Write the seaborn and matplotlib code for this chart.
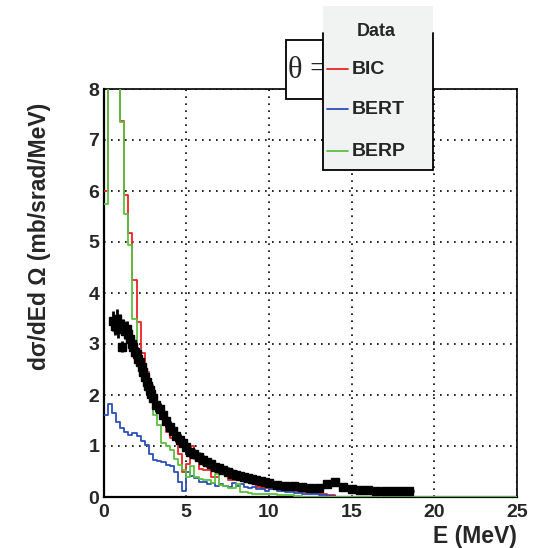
import numpy as np
import pandas as pd
import matplotlib
matplotlib.use("Agg")
import matplotlib.pyplot as plt
from matplotlib.patches import Rectangle
from matplotlib.lines import Line2D
import seaborn as sns

# ---------------- data ----------------
# bin edges: 0.25 MeV up to 10, 0.5 MeV up to 15, one wide bin to 25
edges = list(np.arange(0, 10.0001, 0.25)) + list(np.arange(10.5, 15.0001, 0.5)) + [25.0]

bic = [6.0, 9.5, 9.5, 9.5, 7.38, 5.92, 5.17, 4.25, 3.44, 2.82,
       2.46, 2.2, 1.97, 1.75, 1.57, 1.28, 1.15, 1.2, 0.85, 0.5,
       0.65, 1.0, 0.77, 0.55, 0.53, 0.53, 0.4, 0.4, 0.5, 0.5,
       0.33, 0.33, 0.38, 0.38, 0.3, 0.3, 0.25, 0.2, 0.17, 0.17,
       0.15, 0.15, 0.13, 0.12, 0.1, 0.08, 0.06, 0.04, 0.0, 0.0,
       0.0]
bert = [1.6, 1.82, 1.65, 1.48, 1.35, 1.28, 1.22, 1.25, 1.2, 1.1,
        1.02, 0.85, 0.72, 0.7, 0.68, 0.62, 0.6, 0.5, 0.3, 0.12,
        0.5, 0.42, 0.38, 0.3, 0.3, 0.25, 0.28, 0.22, 0.25, 0.22,
        0.2, 0.28, 0.22, 0.25, 0.2, 0.18, 0.2, 0.15, 0.15, 0.12,
        0.15, 0.12, 0.1, 0.08, 0.06, 0.05, 0.03, 0.02, 0.0, 0.0,
        0.0]
berp = [5.75, 9.5, 9.5, 9.5, 7.35, 5.55, 4.95, 3.5, 2.88, 2.6,
        2.3, 2.0, 1.6, 1.42, 1.05, 1.0, 0.92, 0.75, 0.62, 0.52,
        0.4, 0.6, 0.4, 0.35, 0.33, 0.33, 0.28, 0.45, 0.24, 0.22,
        0.17, 0.17, 0.25, 0.1, 0.1, 0.08, 0.06, 0.05, 0.06, 0.05,
        0.05, 0.04, 0.03, 0.02, 0.0, 0.0, 0.0, 0.0, 0.0, 0.0,
        0.0]

data_E = [0.6, 0.7, 0.8, 0.9, 1.0, 1.1, 1.2, 1.3, 1.4, 1.5, 1.6, 1.7, 1.8, 1.9,
          2.0, 2.1, 2.2, 2.3, 2.4, 2.5, 2.6, 2.7, 2.8, 2.9, 3.0,
          3.2, 3.4, 3.6, 3.8, 4.0, 4.2, 4.4, 4.6, 4.8, 5.0,
          5.25, 5.5, 5.75, 6.0, 6.25, 6.5, 6.75, 7.0, 7.25, 7.5, 7.75,
          8.0, 8.25, 8.5, 8.75, 9.0, 9.25, 9.5, 9.75, 10.0,
          10.5, 11.0, 11.5, 12.0, 12.5, 13.0, 13.5, 14.0, 14.5, 15.0,
          15.5, 16.0, 16.5, 17.0, 17.5, 18.0, 18.5]
data_y = [3.45, 3.35, 3.5, 3.3, 3.4, 2.95, 3.35, 3.25, 3.3, 3.2, 3.1, 3.0, 2.95, 2.85,
          2.8, 2.7, 2.65, 2.55, 2.45, 2.35, 2.25, 2.18, 2.1, 2.02, 1.95,
          1.8, 1.72, 1.6, 1.5, 1.38, 1.3, 1.2, 1.12, 1.05, 0.98,
          0.88, 0.85, 0.78, 0.72, 0.68, 0.64, 0.58, 0.56, 0.53, 0.5, 0.46,
          0.44, 0.42, 0.4, 0.37, 0.35, 0.33, 0.32, 0.3, 0.27,
          0.24, 0.22, 0.21, 0.19, 0.18, 0.18, 0.25, 0.3, 0.2, 0.16,
          0.14, 0.13, 0.12, 0.12, 0.12, 0.11, 0.11]
data_err = [0.2, 0.18, 0.18, 0.18, 0.18, 0.1, 0.15, 0.15, 0.15, 0.15, 0.14, 0.14, 0.14, 0.14,
            0.14, 0.14, 0.14, 0.14, 0.13, 0.13, 0.13, 0.13, 0.13, 0.13, 0.13,
            0.13, 0.13, 0.13, 0.13, 0.12, 0.12, 0.12, 0.12, 0.12, 0.12,
            0.1, 0.1, 0.1, 0.1, 0.09, 0.09, 0.09, 0.09, 0.08, 0.08, 0.08,
            0.08, 0.08, 0.08, 0.07, 0.07, 0.07, 0.07, 0.07, 0.07,
            0.07, 0.07, 0.07, 0.07, 0.07, 0.07, 0.07, 0.07, 0.07, 0.06,
            0.06, 0.05, 0.05, 0.05, 0.05, 0.05, 0.05]
data_xerr = [0.1, 0.1, 0.1, 0.1, 0.1, 0.05, 0.1, 0.1, 0.1, 0.1, 0.1, 0.1, 0.1, 0.1,
             0.1, 0.1, 0.1, 0.1, 0.1, 0.1, 0.1, 0.1, 0.1, 0.1, 0.1,
             0.15, 0.15, 0.15, 0.15, 0.15, 0.15, 0.15, 0.15, 0.15, 0.15,
             0.15, 0.15, 0.15, 0.15, 0.15, 0.15, 0.15, 0.15, 0.15, 0.15, 0.15,
             0.15, 0.15, 0.15, 0.15, 0.15, 0.15, 0.15, 0.15, 0.15,
             0.25, 0.25, 0.25, 0.25, 0.25, 0.25, 0.25, 0.25, 0.25, 0.25,
             0.25, 0.25, 0.25, 0.25, 0.25, 0.25, 0.25]

models = ["BIC", "BERT", "BERP"]
colors = {"BIC": "#ee2222", "BERT": "#2a4fb8", "BERP": "#5cc040"}

# ---------------- style ----------------
sns.set_style("white")
plt.rcParams["font.family"] = ["Liberation Sans", "DejaVu Sans"]
plt.rcParams["font.weight"] = "bold"

fig = plt.figure(figsize=(5.58, 5.48), dpi=100)
ax = fig.add_axes([103.5 / 558, 1 - 497 / 548, (517 - 103.5) / 558, (497 - 89) / 548])

centers = [(edges[i] + edges[i + 1]) / 2 for i in range(len(edges) - 1)]
frames = []
for name, vals in zip(models, [bic, bert, berp]):
    frames.append(pd.DataFrame({"E": centers, "w": vals, "model": name}))
df = pd.concat(frames, ignore_index=True)

for name in models:
    sub = df[df["model"] == name]
    sns.histplot(data=sub, x="E", weights="w", bins=edges, element="step",
                 fill=False, color=colors[name], linewidth=1.3, ax=ax, zorder=3)

ax.errorbar(data_E, data_y, yerr=data_err, xerr=data_xerr, fmt="s", color="black",
            markersize=6, elinewidth=2.0, capsize=0, zorder=4)

ax.set_xlim(0, 25)
ax.set_ylim(0, 8)
ax.set_xticks([0, 5, 10, 15, 20, 25])
ax.set_yticks(range(0, 9))
ax.set_xlabel("")
ax.set_ylabel("")
ax.grid(True, color="black", linestyle=(0, (1, 3.2)), linewidth=1.2)
ax.set_axisbelow(True)

ax.tick_params(axis="x", direction="in", length=14, width=1.4, pad=5,
               labelsize=14, top=False)
ax.tick_params(axis="y", direction="in", length=8.5, width=1.4, pad=3,
               labelsize=14, right=False)
for lab in ax.get_xticklabels() + ax.get_yticklabels():
    lab.set_fontweight("bold")

for s in ["left", "bottom"]:
    ax.spines[s].set_linewidth(1.6)
for s in ["top", "right"]:
    ax.spines[s].set_linewidth(1.2)
for s in ax.spines.values():
    s.set_color("black")

# axis titles
fig.text(40 / 558, 1 - 103 / 548, "dσ/dEd Ω (mb/srad/MeV)", rotation=90,
         ha="center", va="top", fontsize=16.5, fontweight="bold")
fig.text(517 / 558, 1 - 536 / 548, "E (MeV)", ha="right", va="center",
         fontsize=16.5, fontweight="bold")

# theta box
W, H = 558, 548
def fx(px):
    return px / W
def fy(py):
    return 1 - py / H

theta_box = Rectangle((fx(286), fy(99)), fx(323) - fx(286), fy(40) - fy(99),
                      transform=fig.transFigure, facecolor="white",
                      edgecolor="black", linewidth=1.3, zorder=5)
fig.add_artist(theta_box)
fig.text(fx(288), fy(71), "θ =", ha="left", va="center", fontsize=22,
         family=["Liberation Serif", "DejaVu Serif"], fontweight="normal", zorder=6)

# legend box
leg_bg = Rectangle((fx(322.5), fy(170)), fx(433) - fx(322.5), fy(6) - fy(170),
                   transform=fig.transFigure, facecolor="#f1f3f3",
                   edgecolor="none", zorder=7)
fig.add_artist(leg_bg)
for (x0, y0, x1, y1) in [(322.5, 33, 322.5, 170), (433, 33, 433, 170), (322.5, 170, 433, 170)]:
    fig.add_artist(Line2D([fx(x0), fx(x1)], [fy(y0), fy(y1)], transform=fig.transFigure,
                          color="black", linewidth=1.3, zorder=8))
fig.text(fx(376), fy(31), "Data", ha="center", va="center", fontsize=13,
         fontweight="bold", zorder=9)
for name, py in zip(models, [69, 109, 151]):
    fig.add_artist(Line2D([fx(327), fx(348)], [fy(py), fy(py)], transform=fig.transFigure,
                          color=colors[name], linewidth=1.3, zorder=9))
    fig.text(fx(352), fy(py), name, ha="left", va="center", fontsize=14,
             fontweight="bold", zorder=9)

fig.savefig("out.png", dpi=100)
